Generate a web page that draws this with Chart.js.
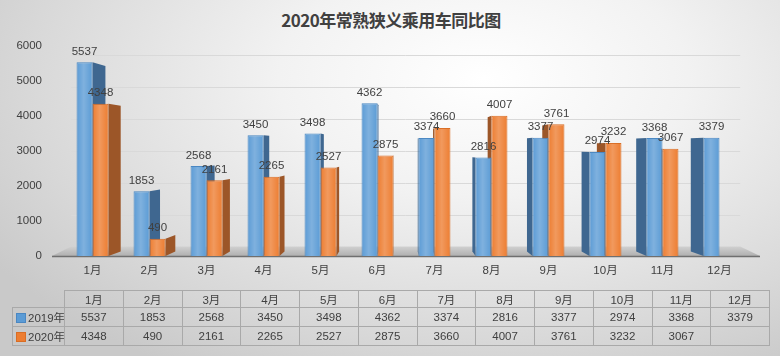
<!DOCTYPE html>
<html><head><meta charset="utf-8">
<script src="https://cdn.jsdelivr.net/npm/chart.js@4/dist/chart.umd.min.js"></script>
<style>
html,body{margin:0;padding:0;}
body{width:780px;height:356px;overflow:hidden;position:relative;
 background:radial-gradient(ellipse 75% 95% at 62% 22%, #ffffff 0%, #f2f2f2 35%, #d8d8d8 78%, #c9c9c9 100%);
 font-family:"Liberation Sans","Noto Sans CJK SC",sans-serif;color:#404040;}
#title{position:absolute;left:0;top:7px;width:782px;text-align:center;font:bold 17px "Noto Sans CJK SC","Liberation Sans",sans-serif;color:#404040;letter-spacing:-0.5px;}
canvas{position:absolute;left:0;top:0;}
table{position:absolute;left:12px;top:290px;border-collapse:collapse;table-layout:fixed;width:757px;font-size:11.5px;color:#404040;}
td{border:1px solid #a9a9a9;text-align:center;padding:0;height:18px;overflow:hidden;}
tr.hdr td{height:15px;}
td.key{text-align:left;white-space:nowrap;}
td.blank{border-top:none;border-left:none;}
.sw{display:inline-block;width:8px;height:8px;margin:0 2px 0 3px;vertical-align:-1px;}
</style></head>
<body>
<div id="title">2020年常熟狭义乘用车同比图</div>
<canvas id="c" width="780" height="356"></canvas>
<table id="tbl"></table>
<script>
const categories = ['1月','2月','3月','4月','5月','6月','7月','8月','9月','10月','11月','12月'];
const seriesNames = ['2019年','2020年'];
const sales2019 = [5537,1853,2568,3450,3498,4362,3374,2816,3377,2974,3368,3379];
const sales2020 = [4348,490,2161,2265,2527,2875,3660,4007,3761,3232,3067,null];
const yMin = 0, yMax = 6000, yStep = 1000;

const frontColors = ['#5b9bd5','#ed7d31'];
const borderColors = ['#4a87c2','#d96d24'];
const sideColors = ['#3f6790','#9c5628'];

// table
(function(){
  const t = document.getElementById('tbl');
  let h = '<colgroup><col style="width:52px">' + categories.map(()=>'<col style="width:58.75px">').join('') + '</colgroup>';
  h += '<tr class="hdr"><td class="key blank"></td>' + categories.map(c=>'<td>'+c+'</td>').join('') + '</tr>';
  [sales2019, sales2020].forEach((arr,i)=>{
    h += '<tr><td class="key"><span class="sw" style="background:'+frontColors[i]+';border:1px solid '+borderColors[i]+'"></span>'+seriesNames[i]+'</td>' +
      arr.map(v=>'<td>'+(v==null?'':v)+'</td>').join('') + '</tr>';
  });
  t.innerHTML = h;
})();

const VX = 400, VY = 150;
const S_BAR = 0.042, S_WALL_Y = 0.09, S_WALL_X = 0.055;
const AX_L = 52, AX_R = 760;

const threeD = {
  id:'threeD',
  beforeDatasetsDraw(chart){
    const ctx = chart.ctx, ys = chart.scales.y;
    const base = ys.getPixelForValue(0);
    ctx.save();
    const xl = AX_L + (VX-AX_L)*S_WALL_X, xr = AX_R + (VX-AX_R)*S_WALL_X;
    ctx.strokeStyle = '#d9d9d9'; ctx.lineWidth = 1;
    for (let v = yMin + yStep; v <= yMax; v += yStep){
      const y = ys.getPixelForValue(v);
      const yb = y + (VY - y)*S_WALL_Y;
      ctx.beginPath(); ctx.moveTo(xl, Math.round(yb)+0.5); ctx.lineTo(xr, Math.round(yb)+0.5); ctx.stroke();
    }
    const bb = base + (VY-base)*S_WALL_Y;
    const g = ctx.createLinearGradient(0,bb,0,base);
    g.addColorStop(0,'#d0d0d0'); g.addColorStop(1,'#b0b0b0');
    ctx.fillStyle = g;
    ctx.beginPath();
    ctx.moveTo(AX_L, base); ctx.lineTo(AX_R, base); ctx.lineTo(xr, bb); ctx.lineTo(xl, bb); ctx.closePath(); ctx.fill();
    ctx.strokeStyle = '#6f6f6f'; ctx.lineWidth = 1.5;
    ctx.beginPath(); ctx.moveTo(AX_L, base+0.5); ctx.lineTo(AX_R, base+0.5); ctx.stroke();
    chart.data.datasets.forEach((ds, i)=>{
      const meta = chart.getDatasetMeta(i);
      meta.data.forEach((bar, j)=>{
        if (ds.data[j] == null) return;
        const p = bar.getProps(['x','y','base','width'], true);
        const edge = p.x + (p.x < VX ? p.width/2 : -p.width/2);
        const dx = (VX - edge)*S_BAR;
        const t2 = p.y + (VY - p.y)*S_BAR;
        const b2 = p.base + (VY - p.base)*S_BAR;
        ctx.fillStyle = sideColors[i];
        ctx.beginPath();
        ctx.moveTo(edge, p.y); ctx.lineTo(edge+dx, t2); ctx.lineTo(edge+dx, b2); ctx.lineTo(edge, p.base); ctx.closePath(); ctx.fill();
      });
    });
    ctx.restore();
  },
  afterDatasetsDraw(chart){
    const ctx = chart.ctx;
    ctx.save();
    chart.data.datasets.forEach((ds, i)=>{
      const meta = chart.getDatasetMeta(i);
      meta.data.forEach((bar, j)=>{
        if (ds.data[j] == null) return;
        const p = bar.getProps(['x','y','base','width'], true);
        const x0 = p.x - p.width/2, x1 = p.x + p.width/2;
        const g = ctx.createLinearGradient(x0,0,x1,0);
        g.addColorStop(0,'rgba(255,255,255,0)');
        g.addColorStop(0.45,'rgba(255,255,255,0.22)');
        g.addColorStop(1,'rgba(255,255,255,0)');
        ctx.fillStyle = g;
        ctx.fillRect(x0+1, p.y+1, p.width-2, p.base-p.y-1);
      });
    });
    ctx.fillStyle = '#404040';
    ctx.font = '11.5px "Liberation Sans","Noto Sans CJK SC",sans-serif';
    ctx.textAlign = 'center'; ctx.textBaseline = 'bottom';
    chart.data.datasets.forEach((ds, i)=>{
      const meta = chart.getDatasetMeta(i);
      meta.data.forEach((bar, j)=>{
        if (ds.data[j] == null) return;
        const p = bar.getProps(['x','y'], true);
        ctx.fillText(String(ds.data[j]), p.x, p.y - 5);
      });
    });
    ctx.restore();
  }
};

new Chart(document.getElementById('c'), {
  type:'bar',
  data:{
    labels: categories,
    datasets:[
      {label:seriesNames[0], data:sales2019, backgroundColor:frontColors[0], borderColor:borderColors[0], borderWidth:1},
      {label:seriesNames[1], data:sales2020, backgroundColor:frontColors[1], borderColor:borderColors[1], borderWidth:1}
    ]
  },
  options:{
    responsive:false, animation:false,
    layout:{padding:{left:0, right:32, top:46, bottom:76}},
    categoryPercentage:0.56, barPercentage:1,
    plugins:{legend:{display:false}, tooltip:{enabled:false}, title:{display:false}},
    scales:{
      x:{
        grid:{display:false, drawTicks:false}, border:{display:false},
        ticks:{color:'#404040', font:{size:11.5, family:'"Liberation Sans","Noto Sans CJK SC",sans-serif'}, padding:8, maxRotation:0},
        afterFit(s){ s.height = 24; }
      },
      y:{
        min:yMin, max:yMax,
        grid:{display:false, drawTicks:false}, border:{display:false},
        ticks:{stepSize:yStep, color:'#404040', font:{size:11.5, family:'"Liberation Sans",sans-serif'}, padding:22,
          callback:(v)=>String(v)},
        afterFit(s){ s.width = 64; }
      }
    }
  },
  plugins:[threeD]
});
</script>
</body></html>
